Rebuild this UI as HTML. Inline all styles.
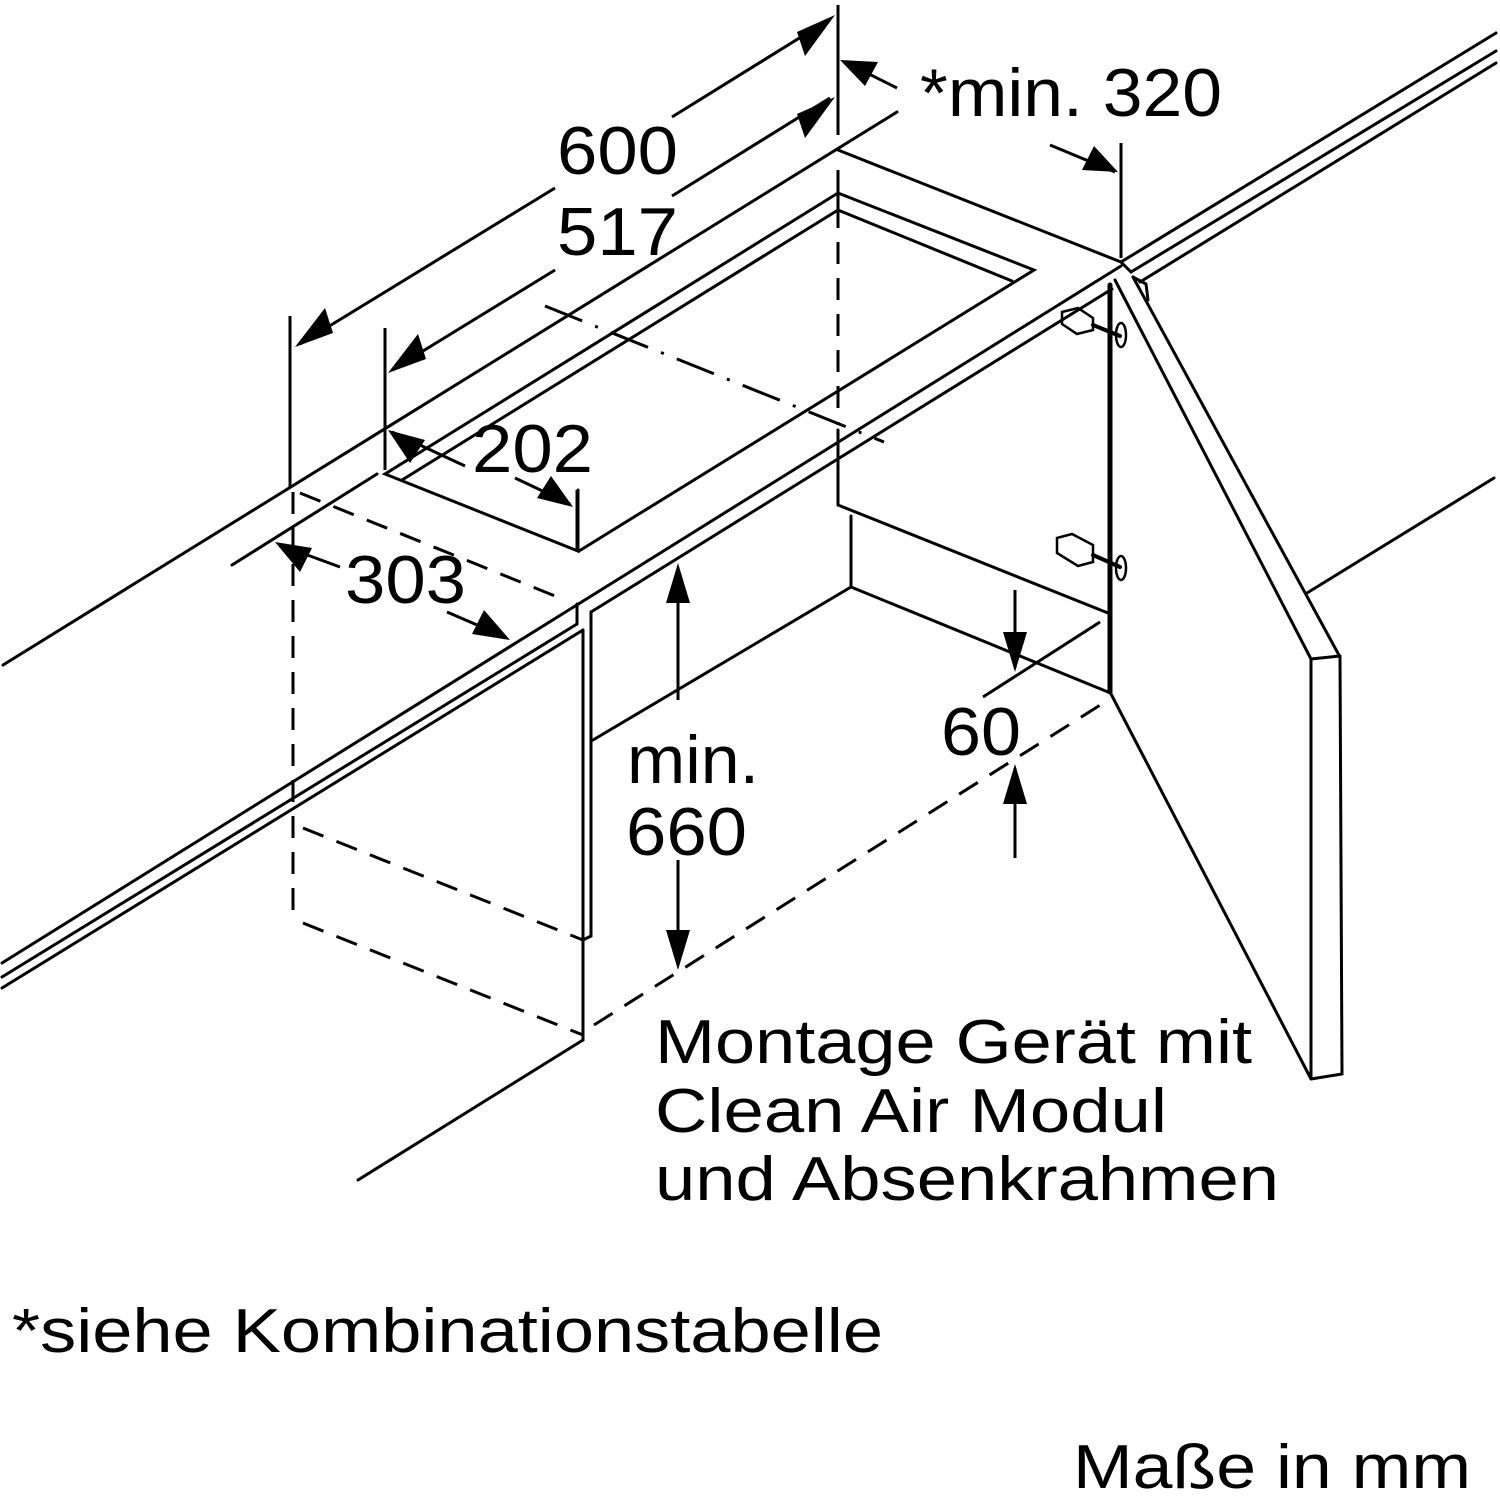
<!DOCTYPE html>
<html><head><meta charset="utf-8"><style>
html,body{margin:0;padding:0;background:#fff;}
svg{display:block}
text{font-family:"Liberation Sans",Arial,sans-serif;fill:#000}
</style></head><body>
<svg width="1500" height="1498" viewBox="0 0 1500 1498" xmlns="http://www.w3.org/2000/svg">
<g stroke="#000" stroke-width="3" fill="none" stroke-linecap="round">
<!-- countertop back edge -->
<line x1="3" y1="665" x2="897" y2="112"/>
<line x1="232" y1="565" x2="377" y2="474"/>
<!-- cutout -->
<polyline points="578,490 578,551 385,474 838,193 1034,270 579,551"/>
<polyline points="402,480 838,210 1012,281"/>
<line x1="838" y1="193" x2="838" y2="210"/>
<!-- counter right end -->
<line x1="838" y1="150" x2="1121" y2="262"/>
<!-- right counter lines -->
<line x1="1121" y1="262" x2="1496" y2="33"/>
<line x1="1131" y1="272" x2="1496" y2="51"/>
<line x1="1140" y1="282" x2="1496" y2="63"/>
<line x1="1121" y1="262" x2="1131" y2="272"/>
<!-- front edge -->
<line x1="2" y1="963" x2="1121" y2="266"/>
<line x1="2" y1="977" x2="577" y2="624"/>
<line x1="2" y1="988" x2="583" y2="630"/>
<line x1="591" y1="612" x2="1112" y2="289"/>
<line x1="577" y1="604" x2="577" y2="624"/>
<line x1="583" y1="630" x2="583" y2="1040"/>
<line x1="591" y1="612" x2="591" y2="936"/>
<line x1="583" y1="940" x2="591" y2="936"/>
<line x1="583" y1="1040" x2="358" y2="1180"/>
<!-- cabinet interior -->
<line x1="593" y1="740" x2="851" y2="587"/>
<line x1="838" y1="430" x2="838" y2="505"/>
<line x1="838" y1="505" x2="1108" y2="613"/>
<line x1="851" y1="516" x2="851" y2="587"/>
<line x1="851" y1="587" x2="1108" y2="692"/>
<line x1="1110" y1="285" x2="1110" y2="692" stroke-width="5"/>
<!-- door -->
<polyline points="1115,280 1311,659 1311,1079 1110,692"/>
<polyline points="1133,277 1340,657 1342,1074 1311,1079"/>
<line x1="1311" y1="659" x2="1340" y2="656"/>
<polyline points="1133,277 1146,284 1148,300"/>
<line x1="1307" y1="593" x2="1494" y2="478"/>
<!-- hinges -->
<polygon points="1062,312 1078,308 1093,318 1093,330 1077,334 1062,324" stroke-width="2.5"/>
<polygon points="1057,538 1072,534 1093,545 1093,562 1078,566 1057,553" stroke-width="2.5"/>
<line x1="1093" y1="325" x2="1120" y2="336" stroke-width="4"/>
<line x1="1093" y1="555" x2="1120" y2="567" stroke-width="4"/>
<ellipse cx="1121" cy="335" rx="5" ry="12" stroke-width="2.5"/>
<ellipse cx="1121" cy="568" rx="5" ry="12" stroke-width="2.5"/>
</g>
<!-- dashed -->
<g stroke="#000" stroke-width="3" fill="none" stroke-dasharray="22,14">
<line x1="293" y1="492" x2="293" y2="915"/>
<line x1="303" y1="828" x2="583" y2="940"/>
<line x1="303" y1="923" x2="583" y2="1035"/>
<line x1="594" y1="1025" x2="1105" y2="702"/>
<line x1="300" y1="493" x2="560" y2="598"/>
<line x1="838" y1="170" x2="838" y2="425"/>
</g>
<g stroke="#000" stroke-width="3" fill="none" stroke-dasharray="40,14,3,14">
<line x1="545" y1="306" x2="884" y2="442"/>
</g>
<!-- dimension lines -->
<g stroke="#000" stroke-width="3" fill="none">
<line x1="290" y1="316" x2="290" y2="487"/>
<line x1="385" y1="328" x2="385" y2="470"/>
<line x1="838" y1="5" x2="838" y2="135"/>
<line x1="1121" y1="143" x2="1121" y2="258"/>
<line x1="300" y1="344" x2="555" y2="188"/>
<line x1="672" y1="117" x2="830" y2="19"/>
<line x1="392" y1="370" x2="555" y2="270"/>
<line x1="672" y1="196" x2="830" y2="98"/>
<line x1="845" y1="62" x2="897" y2="88"/>
<line x1="1050" y1="145" x2="1115" y2="172"/>
<line x1="392" y1="432" x2="465" y2="466"/>
<line x1="515" y1="478" x2="570" y2="504"/>
<line x1="577" y1="490" x2="577" y2="551"/>
<line x1="280" y1="545" x2="340" y2="567"/>
<line x1="447" y1="612" x2="505" y2="637"/>
<line x1="678" y1="570" x2="678" y2="700"/>
<line x1="678" y1="860" x2="678" y2="962"/>
<line x1="1015" y1="590" x2="1015" y2="668"/>
<line x1="1015" y1="768" x2="1015" y2="858"/>
<line x1="983" y1="697" x2="1100" y2="622"/>
</g>
<g fill="#000">
<!-- arrowheads -->
<polygon points="295,347 325,308 333,333"/>
<polygon points="835,15 805,56 797,32"/>
<polygon points="388,373 418,334 426,359"/>
<polygon points="835,97 805,138 797,114"/>
<polygon points="840,60 878,62 865,86"/>
<polygon points="1118,172 1082,170 1094,146"/>
<polygon points="388,430 425,440 410,463"/>
<polygon points="573,507 537,498 551,476"/>
<polygon points="275,542 312,548 300,572"/>
<polygon points="510,640 472,634 484,610"/>
<polygon points="678,563 666,603 690,603"/>
<polygon points="678,970 666,930 690,930"/>
<polygon points="1015,672 1003,632 1027,632"/>
<polygon points="1015,764 1003,804 1027,804"/>
</g>
<!-- labels -->
<g font-size="68">
<text x="557" y="174" textLength="121" lengthAdjust="spacingAndGlyphs">600</text>
<text x="557" y="255" textLength="121" lengthAdjust="spacingAndGlyphs">517</text>
<text x="920" y="116" textLength="302" lengthAdjust="spacingAndGlyphs">*min. 320</text>
<text x="472" y="472" textLength="121" lengthAdjust="spacingAndGlyphs">202</text>
<text x="345" y="603" textLength="121" lengthAdjust="spacingAndGlyphs">303</text>
<text x="627" y="783" textLength="132" lengthAdjust="spacingAndGlyphs">min.</text>
<text x="626" y="855" textLength="121" lengthAdjust="spacingAndGlyphs">660</text>
<text x="941" y="755" textLength="80" lengthAdjust="spacingAndGlyphs">60</text>
</g>
<g font-size="62">
<text x="655" y="1063" textLength="597" lengthAdjust="spacingAndGlyphs">Montage Gerät mit</text>
<text x="655" y="1132" textLength="512" lengthAdjust="spacingAndGlyphs">Clean Air Modul</text>
<text x="655" y="1200" textLength="624" lengthAdjust="spacingAndGlyphs">und Absenkrahmen</text>
<text x="12" y="1352" textLength="871" lengthAdjust="spacingAndGlyphs">*siehe Kombinationstabelle</text>
<text x="1073" y="1488" textLength="398" lengthAdjust="spacingAndGlyphs">Maße in mm</text>
</g>
</svg>
</body></html>
